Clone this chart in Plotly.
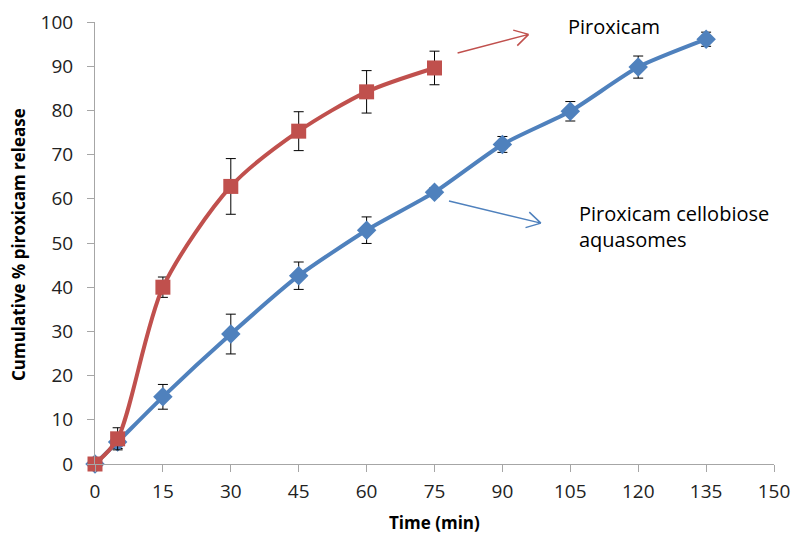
import plotly.graph_objects as go
import math

time_pir = [0, 5, 15, 30, 45, 60, 75]
pir = [0, 5.7, 40.0, 62.8, 75.3, 84.2, 89.6]
pir_err = [0, 2.5, 2.3, 6.3, 4.4, 4.8, 3.8]

time_aq = [0, 5, 15, 30, 45, 60, 75, 90, 105, 120, 135]
aq = [0, 5.0, 15.2, 29.4, 42.6, 52.9, 61.5, 72.3, 79.8, 89.8, 96.1]
aq_err = [0, 1.5, 2.8, 4.5, 3.1, 3.0, 1.0, 1.8, 2.2, 2.5, 1.6]

xticks = [0, 15, 30, 45, 60, 75, 90, 105, 120, 135, 150]
yticks = [0, 10, 20, 30, 40, 50, 60, 70, 80, 90, 100]

RED = "#C0504D"
BLUE = "#4F81BD"
FONT = "Open Sans"

W, H = 792, 536
ML, MR, MT, MB = 95, 18, 22, 72
XMAX, YMAX = 150, 100
pxx = (W - ML - MR) / XMAX
pxy = (H - MT - MB) / YMAX

fig = go.Figure()
fig.add_trace(go.Scatter(
    x=time_aq, y=aq, mode="lines+markers", line=dict(color=BLUE, width=4, shape="spline", smoothing=0.6),
    marker=dict(symbol="diamond", size=15, color=BLUE), cliponaxis=False,
    error_y=dict(type="data", array=aq_err, color="black", thickness=1, width=5),
    showlegend=False))
fig.add_trace(go.Scatter(
    x=time_pir, y=pir, mode="lines+markers", line=dict(color=RED, width=4, shape="spline", smoothing=0.8),
    marker=dict(symbol="square", size=15, color=RED), cliponaxis=False,
    error_y=dict(type="data", array=pir_err, color="black", thickness=1, width=5),
    showlegend=False))

def arrow(x0, y0, x1, y1, color):
    dxp = (x1 - x0) * pxx
    dyp = (y1 - y0) * pxy
    ang = math.atan2(dyp, dxp)
    L = 16
    path = f"M {x0},{y0} L {x1},{y1}"
    for da in (math.radians(150), -math.radians(150)):
        hx = x1 + L * math.cos(ang + da) / pxx
        hy = y1 + L * math.sin(ang + da) / pxy
        path += f" M {x1},{y1} L {hx},{hy}"
    fig.add_shape(type="path", path=path, xref="x", yref="y", line=dict(color=color, width=1.5))

arrow(80.1, 93.0, 95.8, 97.2, RED)
arrow(78.2, 59.5, 98.5, 54.5, BLUE)

fig.add_annotation(x=104, y=98.9, xref="x", yref="y", text="Piroxicam", showarrow=False,
                   xanchor="left", yanchor="middle", font=dict(family=FONT, size=20, color="black"))
fig.add_annotation(x=106.5, y=53.8, xref="x", yref="y", text="Piroxicam cellobiose<br>aquasomes",
                   showarrow=False, xanchor="left", yanchor="middle", align="left",
                   font=dict(family=FONT, size=20, color="black"))

fig.add_annotation(x=(434 - ML) / (W - ML - MR), y=-(522 - (H - MB)) / (H - MT - MB), xref="paper", yref="paper",
                   text="<b>Time (min)</b>", showarrow=False, xanchor="center", yanchor="middle",
                   font=dict(family=FONT, size=17, color="black"))
fig.add_annotation(x=-(95 - 18) / (W - ML - MR), y=(H - MB - 245) / (H - MT - MB), xref="paper", yref="paper",
                   text="<b>Cumulative % piroxicam release</b>", showarrow=False, textangle=-90,
                   xanchor="center", yanchor="middle", font=dict(family=FONT, size=17, color="black"))

fig.update_layout(
    width=W, height=H, margin=dict(l=ML, r=MR, t=MT, b=MB, autoexpand=False),
    plot_bgcolor="white", paper_bgcolor="white",
    font=dict(family=FONT, color="#222"),
)
fig.update_xaxes(range=[0, XMAX], tickvals=xticks, ticktext=[str(v) for v in xticks], automargin=False,
                 showgrid=False, zeroline=False, showline=True, linecolor="#a6a6a6", linewidth=1,
                 ticks="outside", ticklen=7, tickcolor="#a6a6a6", ticklabelstandoff=3,
                 tickfont=dict(size=19, family=FONT, color="#222"))
fig.update_yaxes(range=[0, YMAX], tickvals=yticks, ticktext=[str(v) for v in yticks], automargin=False,
                 showgrid=False, zeroline=False, showline=True, linecolor="#a6a6a6", linewidth=1,
                 ticks="outside", ticklen=7, tickcolor="#a6a6a6", ticklabelstandoff=10,
                 tickfont=dict(size=19, family=FONT, color="#222"))

fig.write_html("out.html")
